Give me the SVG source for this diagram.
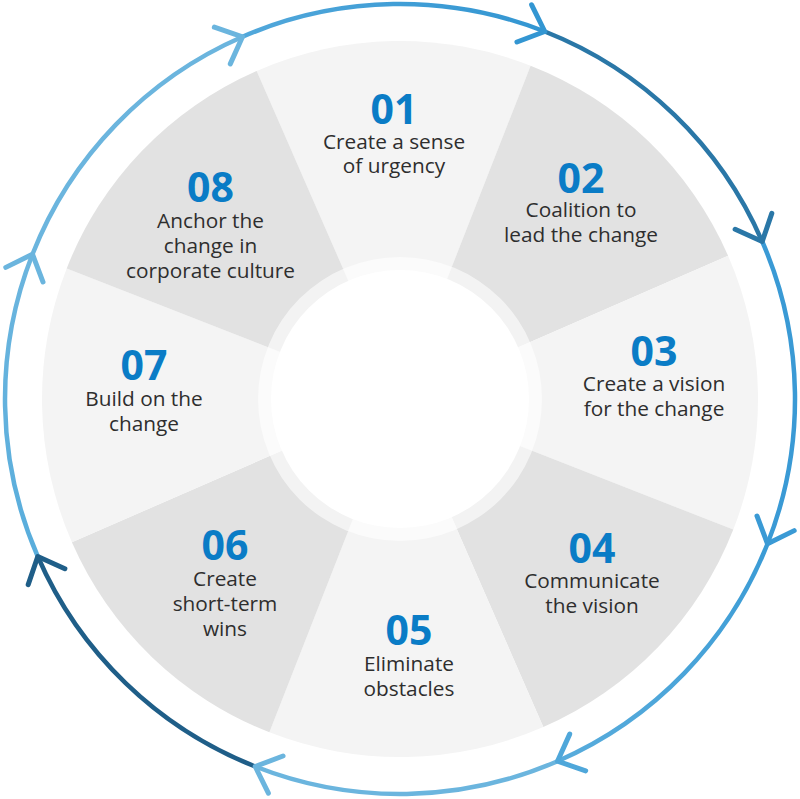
<svg xmlns="http://www.w3.org/2000/svg" width="800" height="799" viewBox="0 0 800 799">
<defs>
<style>
.lt{fill:#f4f4f4}
.dk{fill:#e2e2e2}
.lbl{font-family:"Open Sans","Liberation Sans",sans-serif;font-size:20.8px;fill:#2e2e2e;text-anchor:middle}
.num{font-weight:700;font-size:41px;fill:#0a7cc6}
.arc{fill:none;stroke-width:4.5}
.chev{fill:none;stroke-width:5;stroke-linecap:round;stroke-linejoin:round}
</style>
<linearGradient id="g1" x1="0" y1="0" x2="1" y2="0"><stop offset="0" stop-color="#52a8db"/><stop offset="1" stop-color="#3396d2"/></linearGradient>
<linearGradient id="g4" x1="0" y1="0" x2="1" y2="0"><stop offset="0" stop-color="#3a9bd5"/><stop offset="1" stop-color="#58acdc"/></linearGradient>
<linearGradient id="g7" x1="0" y1="0" x2="1" y2="0"><stop offset="0" stop-color="#58addc"/><stop offset="1" stop-color="#6bb5de"/></linearGradient>
</defs>
<rect width="800" height="799" fill="#ffffff"/>

<g id="wedges">
<g id="node-01"><path class="lt" d="M400 399 L256.7 70.9 A358 358 0 0 1 530.6 65.7 Z"/></g>
<g id="node-02"><path class="dk" d="M400 399 L530.6 65.7 A358 358 0 0 1 728.1 255.7 Z"/></g>
<g id="node-03"><path class="lt" d="M400 399 L728.1 255.7 A358 358 0 0 1 733.3 529.6 Z"/></g>
<g id="node-04"><path class="dk" d="M400 399 L733.3 529.6 A358 358 0 0 1 543.3 727.1 Z"/></g>
<g id="node-05"><path class="lt" d="M400 399 L543.3 727.1 A358 358 0 0 1 269.4 732.3 Z"/></g>
<g id="node-06"><path class="dk" d="M400 399 L269.4 732.3 A358 358 0 0 1 71.9 542.3 Z"/></g>
<g id="node-07"><path class="lt" d="M400 399 L71.9 542.3 A358 358 0 0 1 66.7 268.4 Z"/></g>
<g id="node-08"><path class="dk" d="M400 399 L66.7 268.4 A358 358 0 0 1 256.7 70.9 Z"/></g>
</g>

<g id="hub">
<circle cx="400" cy="399" r="142" fill="#ffffff" fill-opacity="0.6"/>
<circle cx="400" cy="399" r="129" fill="#ffffff"/>
</g>

<g id="labels">
<g id="label-01"><text class="lbl"><tspan class="num" x="394" y="124">01</tspan><tspan x="394" y="149">Create a sense</tspan><tspan x="394" y="173">of urgency</tspan></text></g>
<g id="label-02"><text class="lbl"><tspan class="num" x="581" y="193">02</tspan><tspan x="581" y="217">Coalition to</tspan><tspan x="581" y="242">lead the change</tspan></text></g>
<g id="label-03"><text class="lbl"><tspan class="num" x="654" y="366">03</tspan><tspan x="654" y="391">Create a vision</tspan><tspan x="654" y="416">for the change</tspan></text></g>
<g id="label-04"><text class="lbl"><tspan class="num" x="592" y="563">04</tspan><tspan x="592" y="588">Communicate</tspan><tspan x="592" y="613">the vision</tspan></text></g>
<g id="label-05"><text class="lbl"><tspan class="num" x="409" y="645">05</tspan><tspan x="409" y="671">Eliminate</tspan><tspan x="409" y="696">obstacles</tspan></text></g>
<g id="label-06"><text class="lbl"><tspan class="num" x="225" y="560">06</tspan><tspan x="225" y="586">Create</tspan><tspan x="225" y="611">short-term</tspan><tspan x="225" y="636">wins</tspan></text></g>
<g id="label-07"><text class="lbl"><tspan class="num" x="144" y="380">07</tspan><tspan x="144" y="406">Build on the</tspan><tspan x="144" y="431">change</tspan></text></g>
<g id="label-08"><text class="lbl"><tspan class="num" x="210.5" y="202">08</tspan><tspan x="210.5" y="228">Anchor the</tspan><tspan x="210.5" y="253">change in</tspan><tspan x="210.5" y="278">corporate culture</tspan></text></g>
</g>

<g id="connectors">
<path class="arc" stroke="url(#g1)" transform="rotate(-23.5 400 399)" d="M400 4 A395 395 0 0 1 679.3 119.7"/>
<path class="arc" stroke="#2a77a7" transform="rotate(21.5 400 399)" d="M400 4 A395 395 0 0 1 679.3 119.7"/>
<path class="arc" stroke="#3a9ad5" transform="rotate(66.5 400 399)" d="M400 4 A395 395 0 0 1 679.3 119.7"/>
<path class="arc" stroke="url(#g4)" transform="rotate(111.5 400 399)" d="M400 4 A395 395 0 0 1 679.3 119.7"/>
<path class="arc" stroke="#6bb5de" transform="rotate(156.5 400 399)" d="M400 4 A395 395 0 0 1 679.3 119.7"/>
<path class="arc" stroke="#1f5e88" transform="rotate(201.5 400 399)" d="M400 4 A395 395 0 0 1 679.3 119.7"/>
<path class="arc" stroke="url(#g7)" transform="rotate(246.5 400 399)" d="M400 4 A395 395 0 0 1 679.3 119.7"/>
<path class="arc" stroke="#6bb5de" transform="rotate(291.5 400 399)" d="M400 4 A395 395 0 0 1 679.3 119.7"/>

<path class="chev" stroke="#6bb5de" transform="rotate(-23.5 400 399)" d="M378 -16 L400 4 L378 24"/>
<path class="chev" stroke="#3396d2" transform="rotate(21.5 400 399)" d="M378 -16 L400 4 L378 24"/>
<path class="chev" stroke="#2a77a7" transform="rotate(66.5 400 399)" d="M378 -16 L400 4 L378 24"/>
<path class="chev" stroke="#3a9ad5" transform="rotate(111.5 400 399)" d="M378 -16 L400 4 L378 24"/>
<path class="chev" stroke="#4fa7da" transform="rotate(156.5 400 399)" d="M378 -16 L400 4 L378 24"/>
<path class="chev" stroke="#6bb5de" transform="rotate(201.5 400 399)" d="M378 -16 L400 4 L378 24"/>
<path class="chev" stroke="#1f5e88" transform="rotate(246.5 400 399)" d="M378 -16 L400 4 L378 24"/>
<path class="chev" stroke="#6bb5de" transform="rotate(291.5 400 399)" d="M378 -16 L400 4 L378 24"/>
</g>
</svg>
